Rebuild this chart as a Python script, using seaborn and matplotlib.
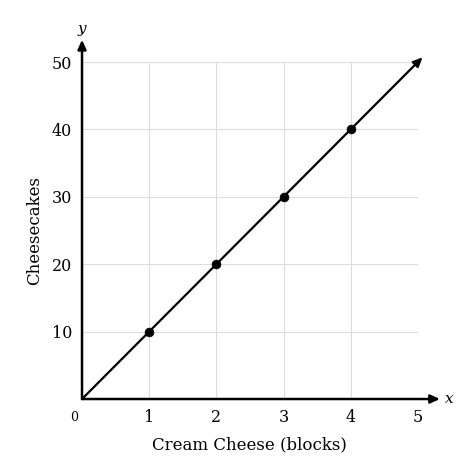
import matplotlib
matplotlib.use("Agg")
import matplotlib.pyplot as plt
import seaborn as sns
import pandas as pd

# data
cream_cheese = [1, 2, 3, 4]
cheesecakes = [10, 20, 30, 40]
line_x = [0, 5.07]
line_y = [0, 50.7]
x_ticks = [1, 2, 3, 4, 5]
y_ticks = [10, 20, 30, 40, 50]

sns.set_style("white")
plt.rcParams['font.family'] = ['DejaVu Serif']
plt.rcParams['text.color'] = 'black'
plt.rcParams['axes.labelcolor'] = 'black'
plt.rcParams['xtick.color'] = 'black'
plt.rcParams['ytick.color'] = 'black'

fig = plt.figure(figsize=(4.7, 4.68), dpi=100)
ax = fig.add_axes([0.1745, 0.1474, 0.7145, 0.7201])

ax.set_xlim(0, 5)
ax.set_ylim(0, 50)
ax.set_xticks(x_ticks)
ax.set_yticks(y_ticks)
ax.grid(True, color="#dddddd", linewidth=0.8)
for s in ax.spines.values():
    s.set_visible(False)
ax.tick_params(length=0, labelsize=11.5, pad=7)

# axes with arrows
arrow_kw = dict(arrowstyle="-|>,head_length=0.55,head_width=0.25", color="black", lw=1.8,
                shrinkA=0, shrinkB=0)
ax.annotate("", xy=(5.33, 0), xytext=(0, 0), arrowprops=arrow_kw, annotation_clip=False)
ax.annotate("", xy=(0, 53.3), xytext=(0, 0), arrowprops=arrow_kw, annotation_clip=False)
ax.text(5.4, 0, "x", style="italic", fontsize=11, va="center", ha="left")
ax.text(0, 53.8, "y", style="italic", fontsize=11, va="bottom", ha="center")
ax.text(-0.12, -1.8, "0", fontsize=9, ha="center", va="top")

# line with arrow head
ax.annotate("", xy=(line_x[1], line_y[1]), xytext=(line_x[0], line_y[0]),
            arrowprops=dict(arrowstyle="-|>,head_length=0.55,head_width=0.25", color="black",
                            lw=1.6, shrinkA=0, shrinkB=0), annotation_clip=False)

pts = pd.DataFrame({"Cream Cheese": cream_cheese, "Cheesecakes": cheesecakes})
sns.scatterplot(data=pts, x="Cream Cheese", y="Cheesecakes", ax=ax, color="black",
                s=40, edgecolor="black", zorder=5, clip_on=False)

ax.set_xlabel("Cream Cheese (blocks)", fontsize=12, labelpad=8)
ax.set_ylabel("Cheesecakes", fontsize=12, labelpad=6)

fig.savefig("out.png", dpi=100)
